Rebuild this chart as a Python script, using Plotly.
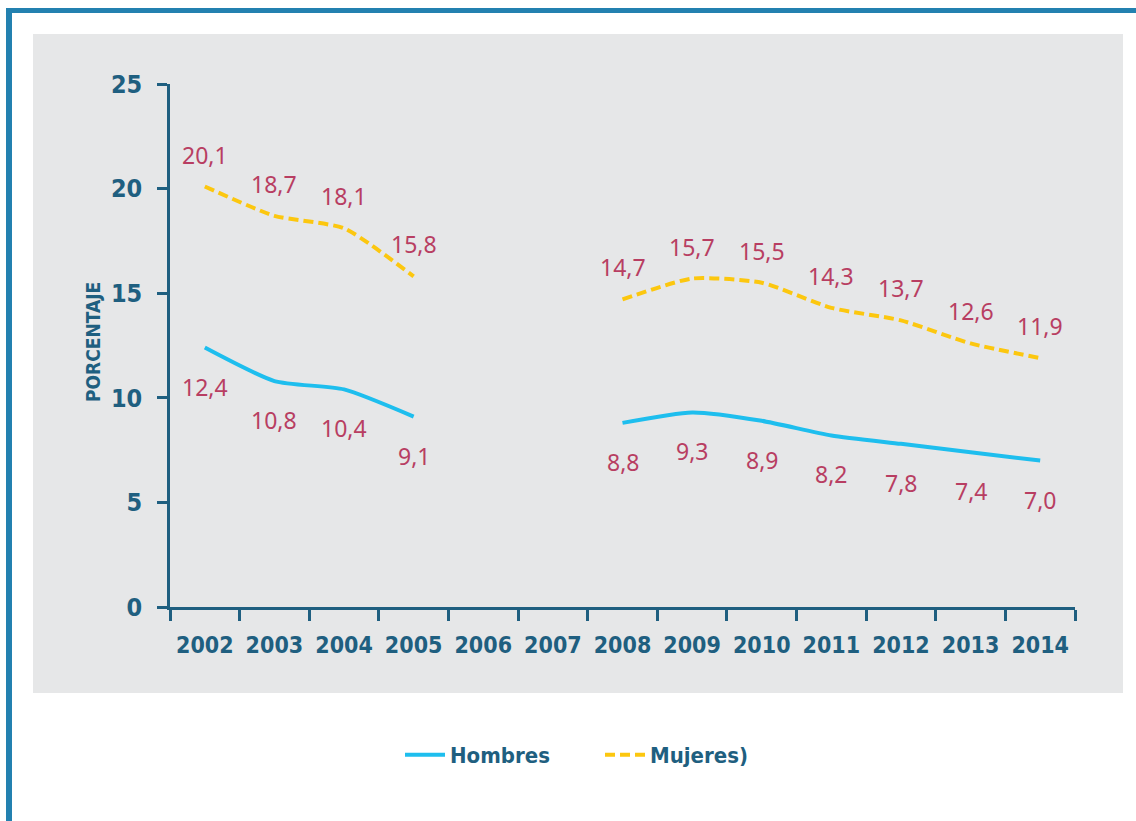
import plotly.graph_objects as go

years = [str(y) for y in range(2002, 2015)]
hombres = [12.4, 10.8, 10.4, 9.1, None, None, 8.8, 9.3, 8.9, 8.2, 7.8, 7.4, 7.0]
mujeres = [20.1, 18.7, 18.1, 15.8, None, None, 14.7, 15.7, 15.5, 14.3, 13.7, 12.6, 11.9]
y_ticks = [0, 5, 10, 15, 20, 25]

AXIS_COLOR = "#1f5f80"
LABEL_COLOR = "#b83e62"
CYAN = "#1ebeee"
YELLOW = "#fcc70f"
BOLD_FONT = "DejaVu Sans Condensed, DejaVu Sans, sans-serif"
LABEL_FONT = "Noto Sans, Open Sans, sans-serif"

W, H = 1136, 821
L, R, T, B = 170, 61, 84, 214
pw, ph = W - L - R, H - T - B

def px_x(x):
    return (x - L) / pw

def px_y(y):
    return (H - B - y) / ph

fig = go.Figure()
fig.add_trace(go.Scatter(x=years, y=hombres, mode="lines", name="Hombres",
                         line=dict(color=CYAN, width=4, shape="spline", smoothing=0.6),
                         connectgaps=False))
fig.add_trace(go.Scatter(x=years, y=mujeres, mode="lines", name="Mujeres)",
                         line=dict(color=YELLOW, width=4, dash="10px,5px", shape="spline", smoothing=0.6),
                         connectgaps=False))

annotations = []
for i, v in enumerate(mujeres):
    if v is None:
        continue
    annotations.append(dict(x=i, y=v, xref="x", yref="y", text=f"{v:.1f}".replace(".", ","),
                            showarrow=False, yshift=32,
                            font=dict(family=LABEL_FONT, size=23, color=LABEL_COLOR)))
for i, v in enumerate(hombres):
    if v is None:
        continue
    annotations.append(dict(x=i, y=v, xref="x", yref="y", text=f"{v:.1f}".replace(".", ","),
                            showarrow=False, yshift=-39,
                            font=dict(family=LABEL_FONT, size=23, color=LABEL_COLOR)))
annotations.append(dict(x=px_x(93), y=px_y(342), xref="paper", yref="paper", text="<b>PORCENTAJE</b>",
                        textangle=-90, showarrow=False, xanchor="center", yanchor="middle",
                        font=dict(family=BOLD_FONT, size=19, color=AXIS_COLOR)))

shapes = [
    dict(type="rect", xref="paper", yref="paper", x0=px_x(33), x1=px_x(1123), y0=px_y(693), y1=px_y(34),
         fillcolor="#e6e7e8", line=dict(width=0), layer="below"),
    dict(type="rect", xref="paper", yref="paper", x0=px_x(6), x1=px_x(1140), y0=px_y(13), y1=px_y(8),
         fillcolor="#2381b0", line=dict(width=0), layer="below"),
    dict(type="rect", xref="paper", yref="paper", x0=px_x(6), x1=px_x(12), y0=px_y(825), y1=px_y(8),
         fillcolor="#2381b0", line=dict(width=0), layer="below"),
]

fig.update_layout(
    width=W, height=H,
    margin=dict(l=L, r=R, t=T, b=B, pad=0),
    paper_bgcolor="white",
    plot_bgcolor="rgba(0,0,0,0)",
    showlegend=True,
    legend=dict(orientation="h", x=px_x(400), y=px_y(755), xanchor="left", yanchor="middle",
                font=dict(family=BOLD_FONT, size=22, color=AXIS_COLOR, weight="bold"),
                bgcolor="rgba(0,0,0,0)", itemwidth=40, entrywidth=145),
    xaxis=dict(type="category", categoryorder="array", categoryarray=years,
               range=[-0.5, 12.5], tickson="boundaries", ticks="outside", ticklen=11, tickwidth=2.5,
               tickcolor=AXIS_COLOR, showline=True, linecolor=AXIS_COLOR, linewidth=2.5,
               showgrid=False, zeroline=False, tickangle=0, ticklabelstandoff=16,
               tickfont=dict(family=BOLD_FONT, size=23, color=AXIS_COLOR, weight="bold"),
               fixedrange=True),
    yaxis=dict(range=[0, 25], tickvals=y_ticks, ticks="outside", ticklen=10, tickwidth=2.5,
               tickcolor=AXIS_COLOR, showline=True, linecolor=AXIS_COLOR, linewidth=2.5,
               showgrid=False, zeroline=False, ticklabelstandoff=10,
               tickfont=dict(family=BOLD_FONT, size=25, color=AXIS_COLOR, weight="bold"),
               fixedrange=True),
    annotations=annotations,
    shapes=shapes,
)

fig.write_html("out.html", config={"displayModeBar": False},
               post_script="document.body.style.margin='0';document.body.style.overflow='hidden';")
